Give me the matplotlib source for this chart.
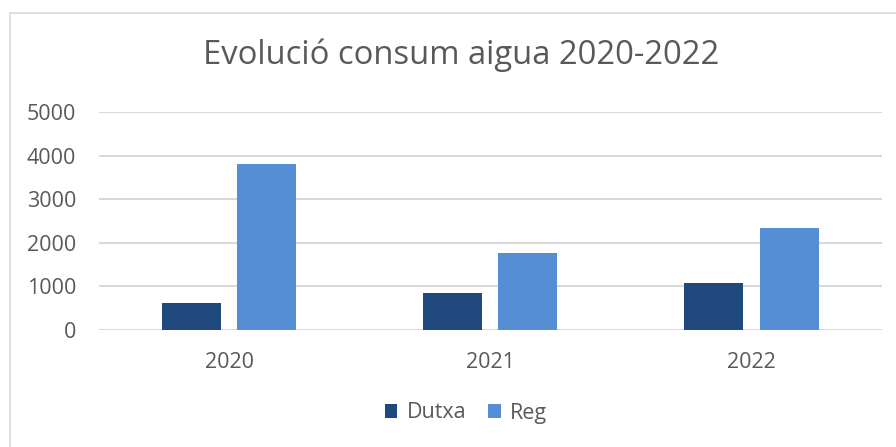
import numpy as np
import matplotlib
matplotlib.use("Agg")
import matplotlib.pyplot as plt
from matplotlib.patches import Rectangle

years = ["2020", "2021", "2022"]
dutxa = [615, 840, 1070]
reg = [3810, 1760, 2340]

text_color = "#595959"
plt.rcParams["font.family"] = ["Open Sans", "DejaVu Sans"]

fig = plt.figure(figsize=(8.96, 4.47), dpi=100)

# chart border (Excel-style), only top and left edges visible
fig.patches.append(Rectangle((10 / 896, -0.1), 2, 1.1 - 13 / 447, transform=fig.transFigure,
                             fill=False, edgecolor="#D9D9D9", linewidth=1.2))

ax = fig.add_axes([98.5 / 896, 1 - 330 / 447, (882 - 98.5) / 896, (330 - 112) / 447])

x = np.arange(len(years))
w = 0.226
off = 0.144
ax.bar(x - off, dutxa, w, color="#1F497D", label="Dutxa", zorder=3)
ax.bar(x + off, reg, w, color="#558ED5", label="Reg", zorder=3)

ax.set_xlim(-0.5, 2.5)
ax.set_ylim(0, 5000)
ax.set_yticks(range(0, 5001, 1000))
ax.set_xticks(x)
ax.set_xticklabels(years)
ax.tick_params(axis="both", length=0, labelsize=15.5, colors=text_color)
ax.tick_params(axis="x", pad=16)
ax.tick_params(axis="y", pad=16)
ax.grid(axis="y", color="#D9D9D9", linewidth=1.5, zorder=0)
for s in ax.spines.values():
    s.set_visible(False)

fig.text(461 / 896, 1 - 55 / 447, "Evolució consum aigua 2020-2022", ha="center", va="center",
         fontsize=23.6, color=text_color)

fig.legend(loc="center", bbox_to_anchor=(466 / 896, 1 - 413 / 447), ncol=2, frameon=False,
           fontsize=15.5, labelcolor=text_color, handlelength=0.58, handleheight=0.58,
           handletextpad=0.45, columnspacing=1.0)

plt.savefig("out.png", dpi=100)
